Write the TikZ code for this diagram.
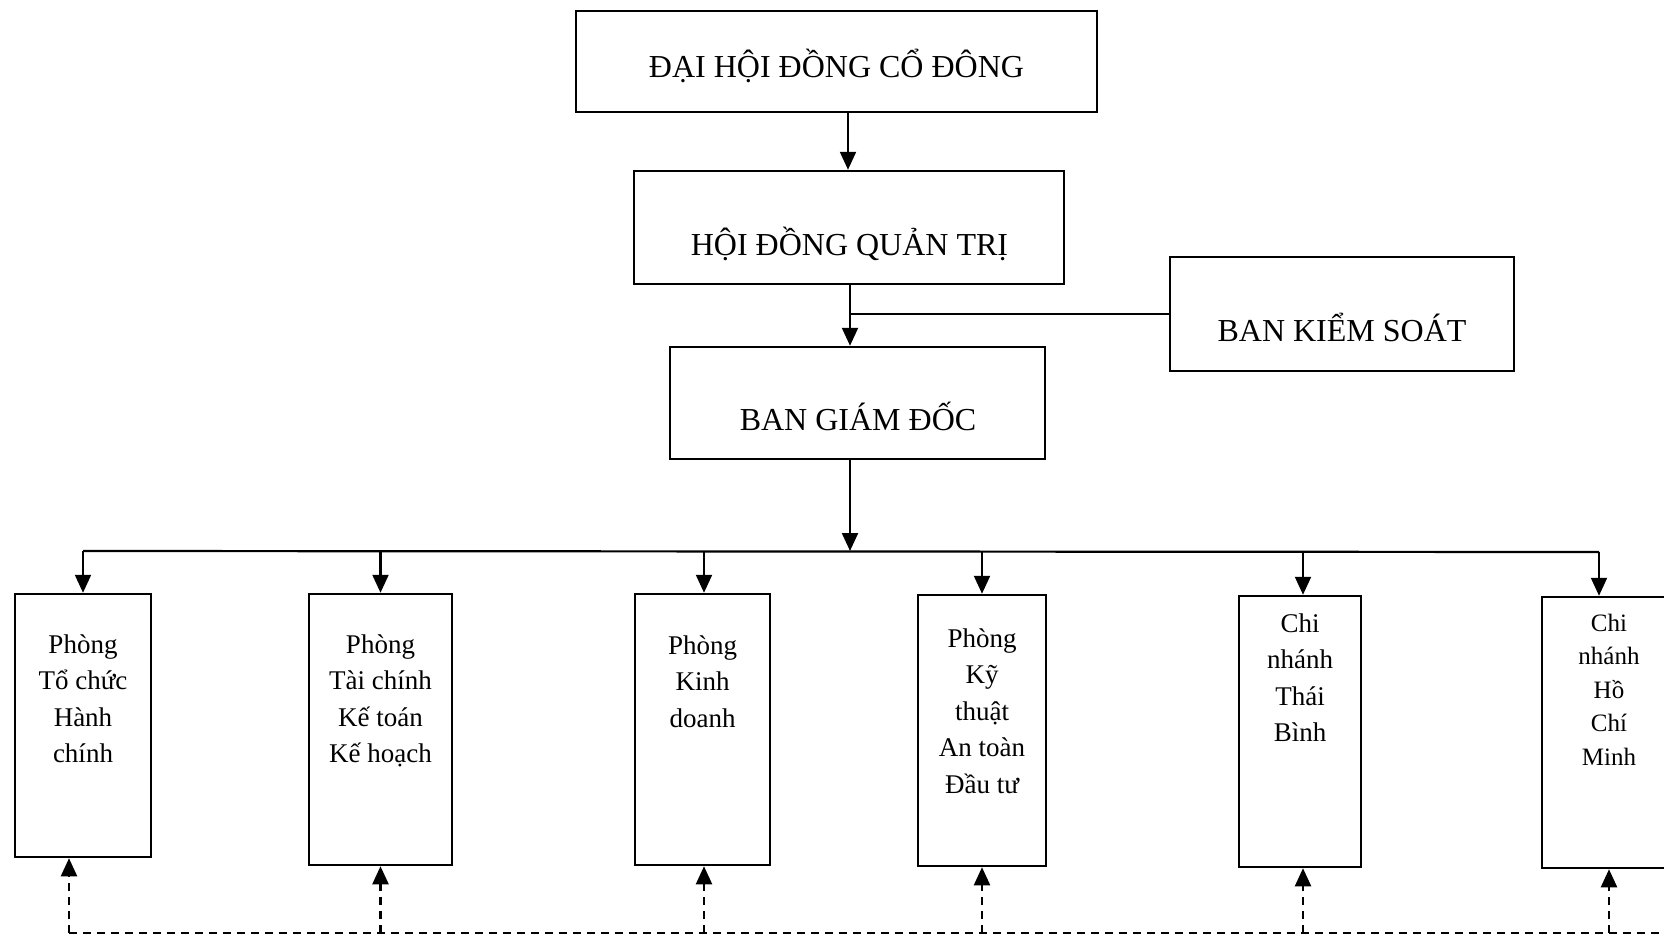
\documentclass[tikz,border=0pt]{standalone}
\usepackage{fontspec}
\setmainfont{Liberation Serif}
\usetikzlibrary{arrows.meta}
\begin{document}
\begin{tikzpicture}[x=1bp,y=-1bp,
  box/.style={draw, line width=2.5bp, inner sep=0pt},
  title/.style={font=\fontsize{32bp}{38bp}\selectfont, inner sep=0pt, anchor=base},
  unit/.style={font=\fontsize{27bp}{36.4bp}\selectfont, align=center, inner sep=0pt, anchor=north},
  unitsm/.style={font=\fontsize{25bp}{33.4bp}\selectfont, align=center, inner sep=0pt, anchor=north},
  conn/.style={line width=2.2bp},
  arr/.style={conn, -{Triangle[length=18bp,width=16bp]}},
  dasharr/.style={line width=2.2bp, dash pattern=on 8bp off 6bp, -{Triangle[length=18bp,width=16bp]}},
  dashline/.style={line width=2.2bp, dash pattern=on 8bp off 6bp}]
\useasboundingbox (0,0) rectangle (1664,935);
\clip (0,0) rectangle (1664,935);
% top boxes
\node[box, minimum width=521bp, minimum height=101bp] (dh) at (836.5,61.5) {};
\node[title] (dht) at (836.5,77.5) {ĐẠI HỘI ĐỒNG CỔ ĐÔNG};
\node[box, minimum width=430bp, minimum height=113bp] (hd) at (849,227.5) {};
\node[title] (hdt) at (849.5,255) {HỘI ĐỒNG QUẢN TRỊ};
\node[box, minimum width=344bp, minimum height=114bp] (bks) at (1342,314) {};
\node[title] (bkst) at (1342,341) {BAN KIỂM SOÁT};
\node[box, minimum width=375bp, minimum height=112bp] (bgd) at (857.5,403) {};
\node[title] (bgdt) at (858,430) {BAN GIÁM ĐỐC};
% bottom boxes
\node[box, minimum width=136bp, minimum height=263bp] (b1) at (83,725.5) {};
\node[unit] (b1t) at (83,634.6) {Phòng\\Tổ chức\\Hành\\chính};
\node[box, minimum width=143bp, minimum height=271bp] (b2) at (380.5,729.5) {};
\node[unit] (b2t) at (380.5,634.6) {Phòng\\Tài chính\\Kế toán\\Kế hoạch};
\node[box, minimum width=135bp, minimum height=271bp] (b3) at (702.5,729.5) {};
\node[unit] (b3t) at (702.5,635.6) {Phòng\\Kinh\\doanh};
\node[box, minimum width=128bp, minimum height=271bp] (b4) at (982,730.5) {};
\node[unit] (b4t) at (982,628.6) {Phòng\\Kỹ\\thuật\\An toàn\\Đầu tư};
\node[box, minimum width=122bp, minimum height=271bp] (b5) at (1300,731.5) {};
\node[unit] (b5t) at (1300,613.6) {Chi\\nhánh\\Thái\\Bình};
\node[box, minimum width=138bp, minimum height=271bp] (b6) at (1611,732.5) {};
\node[unitsm] (b6t) at (1609,614) {Chi\\nhánh\\Hồ\\Chí\\Minh};
% coordinates
\coordinate (c1) at (848,0);
\coordinate (j) at (850,551);
\coordinate (busR) at (1599,552);
\coordinate (dL) at (69,933);
\coordinate (dR) at (1664,933);
\coordinate (d6) at (1609,933);
% top connectors
\draw[arr] (dh.south -| c1) -- (hd.north -| c1);
\draw[arr] (hd.south -| j) -- (bgd.north -| j);
\draw[conn] (bks.west) -- (bks.west -| j);
\draw[arr] (bgd.south -| j) -- (j);
% bus
\draw[conn] (b1.north |- j) -- (busR);
\draw[arr] (b1.north |- j) -- (b1.north);
\draw[arr] (b2.north |- j) -- (b2.north);
\draw[arr] (704,551) coordinate (j3) -- (j3 |- b3.north);
\draw[arr] (b4.north |- j) -- (b4.north);
\draw[arr] (1303,551) coordinate (j5) -- (j5 |- b5.north);
\draw[arr] (busR) -- (busR |- b6.north);
% dashed feedback
\draw[dashline] (dL) -- (dR);
\draw[dasharr] (dL) -- (dL |- b1.south);
\draw[dasharr] (b2.south |- dL) -- (b2.south);
\draw[dasharr] (704,933) coordinate (d3) -- (d3 |- b3.south);
\draw[dasharr] (b4.south |- dL) -- (b4.south);
\draw[dasharr] (1303,933) coordinate (d5) -- (d5 |- b5.south);
\draw[dasharr] (d6) -- (d6 |- b6.south);
\end{tikzpicture}
\end{document}
